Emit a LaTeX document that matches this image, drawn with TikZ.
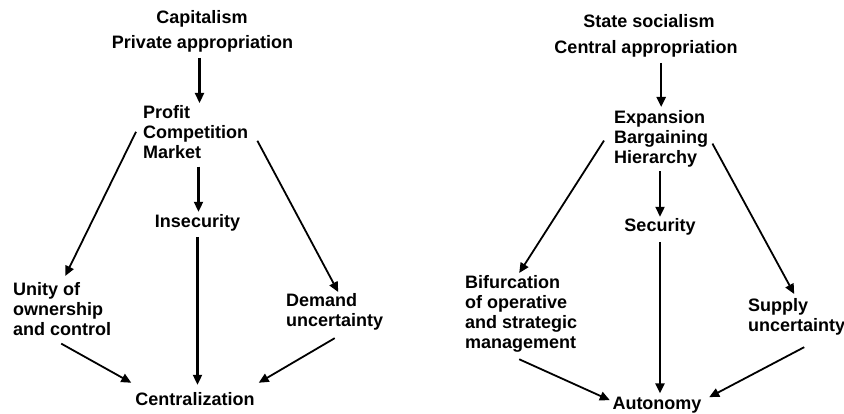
\documentclass[tikz,border=0pt]{standalone}
\usepackage{fontspec}
\setmainfont{Liberation Sans}
\usetikzlibrary{arrows.meta}

\begin{document}
\begin{tikzpicture}[x=1pt, y=-1pt,
        every node/.style={inner sep=0pt, font=\fontsize{18}{20}\selectfont\bfseries},
        lbl/.style={anchor=base},
        blk/.style={anchor=north west, align=left},
        arr/.style={-{Triangle[length=10pt, width=9pt]}, line width=1.8pt},
        vert/.style={arr, line width=2.3pt}]
            \useasboundingbox (0, 0) rectangle (844, 414);
            % capitalism
            \node[lbl] (cap) at (202, 24) {Capitalism};
            \node[lbl] (pa) at (202.5, 49) {Private appropriation};
            \node[blk] (pcm) at (143, 105) {Profit\\Competition\\Market};
            \node[lbl] (ins) at (197.5, 228) {Insecurity};
            \node[blk] (uoc) at (13, 282) {Unity of\\ownership\\and control};
            \node[blk] (dem) at (286, 293) {Demand\\uncertainty};
            \node[lbl] (cen) at (195, 405) {Centralization};
            \draw[vert] ([xshift=-3pt, yshift=-5pt]pa.south) -- ([xshift=-3pt, yshift=2pt]pa.south |- pcm.north);
            \draw[vert] ([xshift=1pt, yshift=-8pt]ins.north |- pcm.south) -- ([xshift=1pt, yshift=3pt]ins.north);
            \draw[vert] ([yshift=-5pt]ins.south) -- ([yshift=7pt]ins.south |- cen.north);
            \draw[arr] ([xshift=-7pt]pcm.west) -- ([xshift=3pt, yshift=6pt]uoc.north);
            \draw[arr] ([xshift=9pt, yshift=-9pt]pcm.east) -- ([xshift=3.5pt, yshift=1pt]dem.north);
            \draw[arr] ([xshift=-1pt, yshift=-8pt]uoc.south) -- ([xshift=-4pt, yshift=9pt]cen.north west);
            \draw[arr] ([yshift=-8pt]dem.south) -- ([xshift=4pt, yshift=9pt]cen.north east);
            % state socialism
            \node[lbl] (soc) at (649, 28) {State socialism};
            \node[lbl] (ca) at (646, 54) {Central appropriation};
            \node[blk] (ebh) at (614, 110) {Expansion\\Bargaining\\Hierarchy};
            \node[lbl] (sec) at (660, 232) {Security};
            \node[blk] (bif) at (465, 275) {Bifurcation\\of operative\\and strategic\\management};
            \node[blk] (sup) at (748, 298) {Supply\\uncertainty};
            \node[lbl] (aut) at (657, 409) {Autonomy};
            \draw[vert] ([yshift=-5pt]ca.south -| ebh.north) -- ([yshift=3pt]ebh.north);
            \draw[vert] ([yshift=-4pt]sec.north |- ebh.south) -- ([yshift=2pt]sec.north);
            \draw[vert] ([yshift=-6pt]sec.south) -- ([yshift=3pt]sec.south |- aut.north);
            \draw[arr] ([xshift=-10pt, yshift=-2pt]ebh.west) -- ([xshift=-2pt, yshift=2pt]bif.north);
            \draw[arr] ([xshift=4pt, yshift=-5pt]ebh.east) -- ([xshift=-2.5pt, yshift=4pt]sup.north);
            \draw[arr] ([xshift=-2pt, yshift=-7pt]bif.south) -- ([xshift=-2.5pt, yshift=4.5pt]aut.west);
            \draw[arr] ([xshift=7.5pt, yshift=-12pt]sup.south) -- ([xshift=7.5pt, yshift=7.5pt]aut.east);
        \end{tikzpicture}
\end{document}
